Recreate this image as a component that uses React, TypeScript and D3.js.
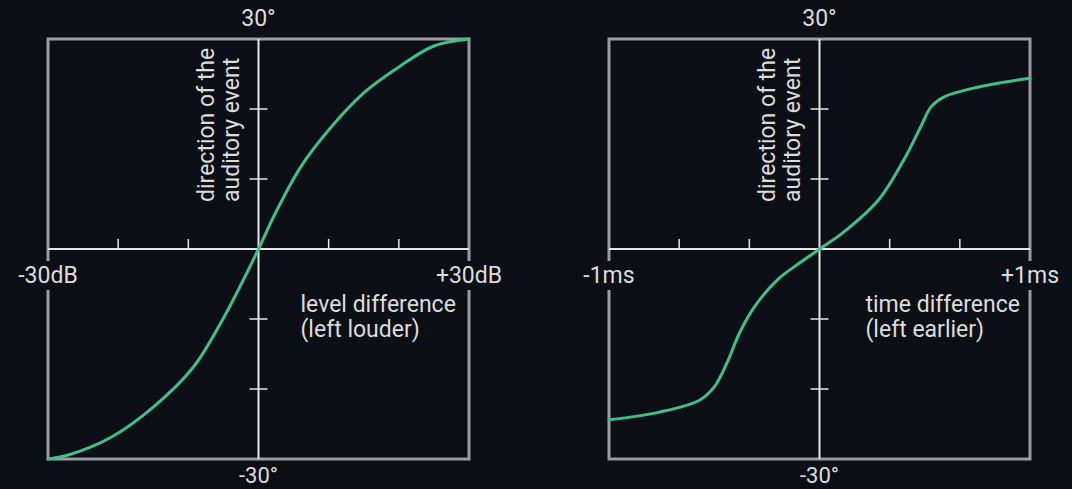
import React from "react";
import * as d3 from "d3";

// Left panel: level difference (dB) -> direction (deg)
const levelDb = [-30, -27, -21, -15, -9.3, -5.4, -2.4, 0, 2.4, 6, 10, 15, 20, 25, 30];
const levelDir = [-30, -29.4, -26.9, -22.6, -16.9, -10.6, -4.9, 0, 5.1, 11.7, 17, 22.3, 26, 29, 30];

// Right panel: time difference (ms) -> direction (deg)
const timeMs = [-1, -0.76, -0.57, -0.5, -0.44, -0.38, -0.31, -0.2, -0.09, 0, 0.11, 0.28, 0.4, 0.48, 0.53, 0.59, 0.75, 1];
const timeDir = [-24.4, -23.3, -21.6, -19.7, -16.3, -12, -8.3, -4.4, -1.9, 0, 2.3, 7, 12.7, 17.4, 20.3, 21.7, 23.1, 24.4];

const yTicks = [-20, -10, 10, 20];
const panels = [
  {
    left: 48,
    xDomain: [-30, 30],
    xTicks: [-20, -10, 10, 20],
    xs: levelDb,
    ys: levelDir,
    minLabel: "-30dB",
    maxLabel: "+30dB",
    desc: ["level difference", "(left louder)"],
    descDx: 42,
  },
  {
    left: 609,
    xDomain: [-1, 1],
    xTicks: [-0.6667, -0.3333, 0.3333, 0.6667],
    xs: timeMs,
    ys: timeDir,
    minLabel: "-1ms",
    maxLabel: "+1ms",
    desc: ["time difference", "(left earlier)"],
    descDx: 46,
  },
];

const BG = "#0d0f17";
const BOX = "#9b9ba0";
const AXIS = "#e6e6e6";
const TEXT = "#dcdcdc";
const GREEN = "#3fbf8c";
const FONT = "Roboto, 'Noto Sans', sans-serif";
const FS = 23;

export default function App() {
  const W = 1072;
  const H = 489;
  const top = 39;
  const bottom = 459;
  const pw = 421;
  const y = d3.scaleLinear().domain([-30, 30]).range([bottom, top]);
  return (
    <svg
      width={W}
      height={H}
      style={{ position: "absolute", left: 0, top: 0, background: BG }}
    >
      <rect x={0} y={0} width={W} height={H} fill={BG} />
      {panels.map((p, i) => {
        const x = d3.scaleLinear().domain(p.xDomain).range([p.left, p.left + pw]);
        const cx = x(0);
        const cy = y(0);
        const line = d3
          .line<number>()
          .x((_, k) => x(p.xs[k]))
          .y((_, k) => y(p.ys[k]))
          .curve(d3.curveCatmullRom.alpha(0.5));
        return (
          <g key={i}>
            {/* box */}
            <rect
              x={x(p.xDomain[0])}
              y={top}
              width={pw}
              height={bottom - top}
              fill="none"
              stroke={BOX}
              strokeWidth={3}
            />
            {/* x axis */}
            <line x1={x(p.xDomain[0])} x2={x(p.xDomain[1])} y1={cy} y2={cy} stroke={AXIS} strokeWidth={2} />
            {p.xTicks.map((t) => (
              <line key={t} x1={x(t)} x2={x(t)} y1={cy - 10} y2={cy} stroke={AXIS} strokeWidth={1.5} />
            ))}
            {/* y axis */}
            <line x1={cx} x2={cx} y1={top} y2={bottom} stroke={AXIS} strokeWidth={2} />
            {yTicks.map((t) => (
              <line key={t} x1={cx - 9} x2={cx + 9} y1={y(t)} y2={y(t)} stroke={AXIS} strokeWidth={1.5} />
            ))}
            {/* curve */}
            <path d={line(p.xs) || ""} fill="none" stroke={GREEN} strokeWidth={3} strokeLinecap="round" />
            {/* end labels with background mask */}
            {[
              { v: p.xDomain[0], t: p.minLabel },
              { v: p.xDomain[1], t: p.maxLabel },
            ].map((l) => (
              <g key={l.t}>
                <rect x={x(l.v) - 4} y={261} width={8} height={29} fill={BG} />
                <text
                  x={x(l.v)}
                  y={283}
                  textAnchor="middle"
                  fill={TEXT}
                  fontFamily={FONT}
                  fontSize={FS}
                >
                  {l.t}
                </text>
              </g>
            ))}
            {/* degree labels */}
            <text x={cx} y={26} textAnchor="middle" fill={TEXT} fontFamily={FONT} fontSize={FS}>
              30°
            </text>
            <text x={cx} y={483} textAnchor="middle" fill={TEXT} fontFamily={FONT} fontSize={FS - 1}>
              -30°
            </text>
            {/* vertical axis title */}
            <text
              transform={`translate(${cx - 45},202) rotate(-90)`}
              fill={TEXT}
              fontFamily={FONT}
              fontSize={FS}
            >
              direction of the
            </text>
            <text
              transform={`translate(${cx - 20},202) rotate(-90)`}
              fill={TEXT}
              fontFamily={FONT}
              fontSize={FS}
            >
              auditory event
            </text>
            {/* horizontal axis title */}
            {p.desc.map((d, k) => (
              <text
                key={d}
                x={cx + p.descDx}
                y={312 + k * 25}
                fill={TEXT}
                fontFamily={FONT}
                fontSize={FS}
              >
                {d}
              </text>
            ))}
          </g>
        );
      })}
    </svg>
  );
}
